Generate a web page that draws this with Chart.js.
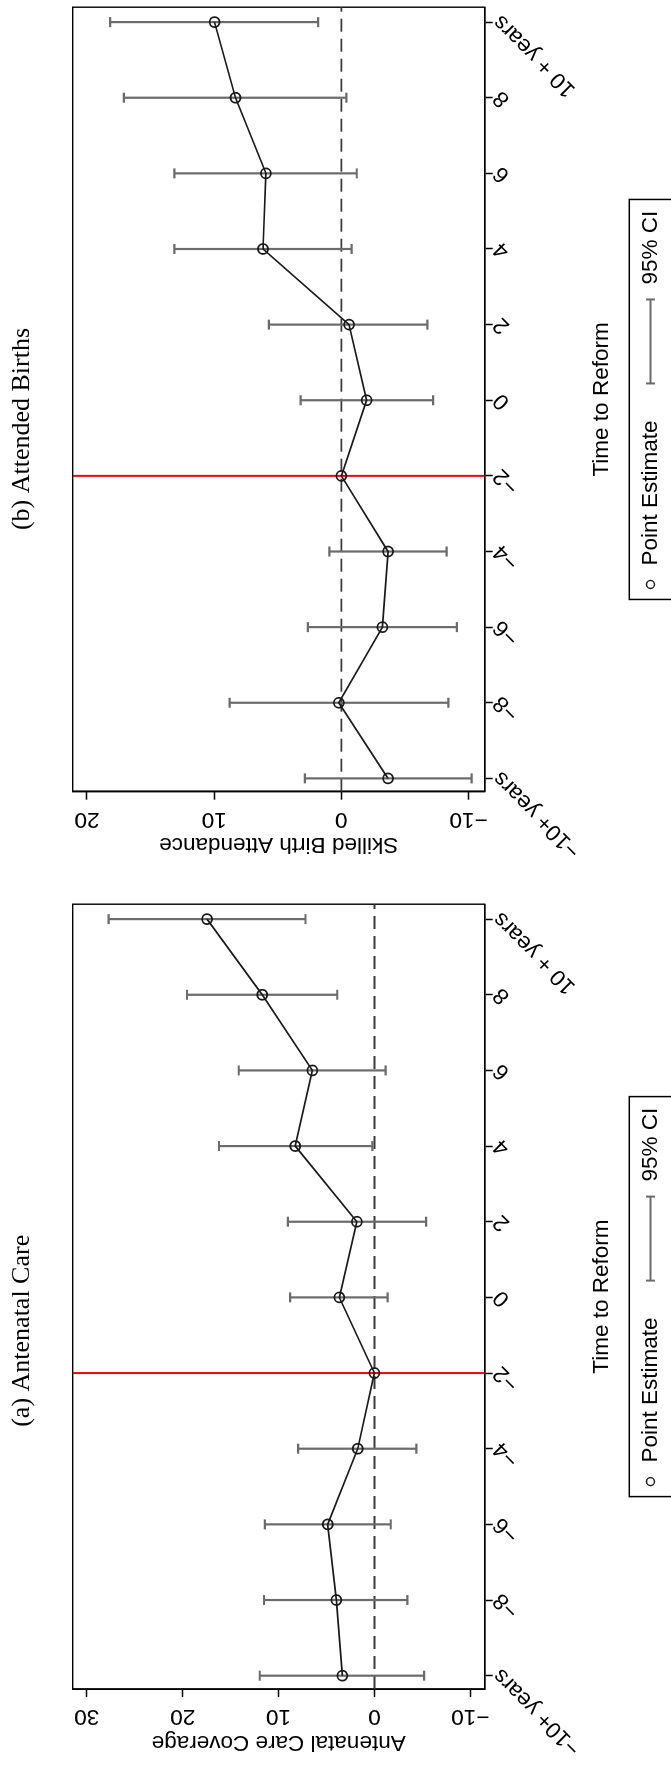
<!DOCTYPE html>
<html><head><meta charset="utf-8">
<script src="https://cdn.jsdelivr.net/npm/chart.js@4.4.1/dist/chart.umd.min.js"></script>
<style>
html,body{margin:0;padding:0;background:#fff;overflow:hidden;width:671px;height:1765px;}
#fig{position:absolute;left:0;top:0;width:1765px;height:671px;transform-origin:0 0;transform:translate(0px,1765px) rotate(-90deg);background:#fff;}
canvas{position:absolute;top:0;}
</style></head><body>
<div id="fig">
<canvas id="cA" width="868" height="671" style="left:0px;width:868px;height:671px"></canvas>
<canvas id="cB" width="865" height="671" style="left:900px;width:865px;height:671px"></canvas>
</div>
<script>
// ---- data ----
const periods = ['\u221210+ years','\u22128','\u22126','\u22124','\u22122','0','2','4','6','8','10 + years'];
const periodIndex = [0,1,2,3,4,5,6,7,8,9,10];
const referencePeriod = '\u22122';

const ancEstimate = [3.35, 3.97, 4.87, 1.74, 0, 3.66, 1.83, 8.26, 6.47, 11.70, 17.46];
const ancLower    = [-5.18, -3.44, -1.70, -4.38, null, -1.38, -5.40, 0.22, -1.16, 3.88, 7.19];
const ancUpper    = [11.96, 11.52, 11.43, 7.95, null, 8.79, 9.02, 16.21, 14.15, 19.55, 27.72];
const ancTicks    = [-10, 0, 10, 20, 30];

const sbaEstimate = [-3.67, 0.20, -3.23, -3.67, 0, -1.99, -0.61, 6.16, 5.93, 8.32, 9.97];
const sbaLower    = [-10.24, -8.42, -9.09, -8.28, null, -7.21, -6.77, -0.81, -1.21, -0.40, 1.82];
const sbaUpper    = [2.86, 8.79, 2.63, 0.94, null, 3.20, 5.69, 13.13, 13.13, 17.10, 18.18];
const sbaTicks    = [-10, 0, 10, 20];

const titles = ['(a) Antenatal Care', '(b) Attended Births'];
const yTitles = ['Antenatal Care Coverage', 'Skilled Birth Attendance'];
const xTitle = 'Time to Reform';
const legendLabels = ['Point Estimate', '95% CI'];

// ---- styling ----
const SANS = "'Liberation Sans', Arial, Helvetica, sans-serif";
const SERIF = "'Liberation Serif', 'Times New Roman', serif";
Chart.defaults.font.family = SANS;
Chart.defaults.font.size = 22.5;
Chart.defaults.color = '#000';
const GRAY = '#6b6b6b';
const X_MIN = -0.176, X_MAX = 10.197;

const framePlugin = {
  id: 'frame',
  beforeDatasetsDraw(chart) {
    const {ctx, chartArea: a} = chart;
    ctx.save();
    ctx.strokeStyle = '#000'; ctx.lineWidth = 1.4;
    ctx.strokeRect(a.left, a.top, a.right - a.left, a.bottom - a.top);
    ctx.restore();
  }
};

const legendPlugin = {
  id: 'rlegend',
  afterDraw(chart) {
    const {ctx, chartArea: a} = chart;
    const cx = (a.left + a.right) / 2;
    const ty = 650.5;
    ctx.save();
    ctx.strokeStyle = '#000'; ctx.lineWidth = 1.5;
    ctx.strokeRect(cx - 200, 629.3, 400, 120);
    ctx.strokeStyle = '#222'; ctx.lineWidth = 1.5;
    ctx.beginPath(); ctx.arc(cx - 185, ty, 4, 0, Math.PI * 2); ctx.stroke();
    ctx.fillStyle = '#000';
    ctx.font = '22.5px ' + SANS;
    ctx.textBaseline = 'middle'; ctx.textAlign = 'left';
    ctx.fillText(legendLabels[0], cx - 166, ty);
    ctx.strokeStyle = GRAY; ctx.lineWidth = 2;
    ctx.beginPath();
    ctx.moveTo(cx + 16, ty); ctx.lineTo(cx + 100, ty);
    ctx.moveTo(cx + 16, ty - 4.5); ctx.lineTo(cx + 16, ty + 4.5);
    ctx.moveTo(cx + 100, ty - 4.5); ctx.lineTo(cx + 100, ty + 4.5);
    ctx.stroke();
    ctx.fillText(legendLabels[1], cx + 115, ty);
    ctx.restore();
  }
};

function fmt(v) { return v < 0 ? '\u2212' + Math.abs(v) : String(v); }

function buildPanel(id, cfg) {
  const est = periodIndex.map((x, i) => ({x, y: cfg.est[i]}));
  const whisk = [], caps = [];
  periodIndex.forEach((x, i) => {
    if (cfg.lo[i] !== null) {
      whisk.push({x, y: cfg.lo[i]}, {x, y: cfg.hi[i]}, {x, y: null});
      caps.push({x, y: cfg.lo[i]}, {x, y: cfg.hi[i]});
    }
  });
  const refX = periodIndex[periods.indexOf(referencePeriod)];
  return new Chart(document.getElementById(id), {
    type: 'line',
    data: {
      datasets: [
        {data: est, borderColor: '#1a1a1a', borderWidth: 1.7, pointRadius: 5, pointBorderWidth: 1.8,
         pointBorderColor: '#1a1a1a', pointBackgroundColor: 'rgba(0,0,0,0)', tension: 0},
        {data: [{x: refX, y: cfg.yMin}, {x: refX, y: cfg.yMax}], borderColor: '#ff0000', borderWidth: 2, pointRadius: 0},
        {data: caps, showLine: false, pointStyle: 'line', pointRadius: 5, pointBorderWidth: 2.2, pointBorderColor: GRAY, borderColor: GRAY},
        {data: whisk, borderColor: GRAY, borderWidth: 2.2, pointRadius: 0, spanGaps: false},
        {data: [{x: X_MIN, y: 0}, {x: X_MAX, y: 0}], borderColor: '#3a3a3a', borderWidth: 1.9, borderDash: [13, 7], pointRadius: 0}
      ]
    },
    options: {
      responsive: false, animation: false, devicePixelRatio: 1, events: [],
      layout: {padding: {left: cfg.padL, right: cfg.padR, top: 0, bottom: 0}},
      plugins: {
        legend: {display: false}, tooltip: {enabled: false},
        title: {display: true, text: cfg.title, color: '#000',
                font: {family: SERIF, size: 26, weight: 'normal', lineHeight: 1.2},
                padding: {top: 6.9, bottom: 34.6}}
      },
      scales: {
        x: {
          type: 'linear', min: X_MIN, max: X_MAX,
          afterBuildTicks: s => { s.ticks = periodIndex.map(v => ({value: v})); },
          afterFit: s => { s.height = 186.3; s.paddingLeft = 0; s.paddingRight = 0; },
          ticks: {autoSkip: false, minRotation: 45, maxRotation: 45, padding: -5, labelOffset: 3.5,
                  color: '#000', callback: v => periods[v]},
          grid: {drawOnChartArea: false, drawTicks: true, tickLength: 8, tickWidth: 1.5, tickColor: '#000'},
          border: {display: true, color: '#000', width: 1.6},
          title: {display: true, text: xTitle, color: '#000', font: {size: 22.5, lineHeight: 1.2},
                  padding: {top: 0, bottom: 55.3}}
        },
        y: {
          type: 'linear', min: cfg.yMin, max: cfg.yMax,
          afterBuildTicks: s => { s.ticks = cfg.ticks.map(v => ({value: v})); },
          afterFit: s => { s.width = cfg.yW; s.paddingTop = 0; s.paddingBottom = 0; },
          ticks: {autoSkip: false, minRotation: 90, maxRotation: 90, crossAlign: 'center', padding: 0,
                  color: '#000', callback: v => fmt(v)},
          grid: {drawOnChartArea: false, drawTicks: true, tickLength: 8, tickWidth: 1.5, tickColor: '#000'},
          border: {display: true, color: '#000', width: 1.6},
          title: {display: true, text: cfg.yTitle, color: '#000', font: {size: 22.5, lineHeight: 0.6},
                  padding: {top: cfg.yTitlePad, bottom: 0}}
        }
      }
    },
    plugins: [framePlugin, legendPlugin]
  });
}

buildPanel('cA', {est: ancEstimate, lo: ancLower, hi: ancUpper, ticks: ancTicks, yMin: -11.5, yMax: 31.47,
  title: titles[0], yTitle: yTitles[0], padL: 6.9, padR: 6.5, yW: 69.1, yTitlePad: 9.35});
buildPanel('cB', {est: sbaEstimate, lo: sbaLower, hi: sbaUpper, ticks: sbaTicks, yMin: -11.27, yMax: 21.12,
  title: titles[1], yTitle: yTitles[1], padL: 12.7, padR: 5.7, yW: 60.6, yTitlePad: 0.85});
</script>
</body></html>
